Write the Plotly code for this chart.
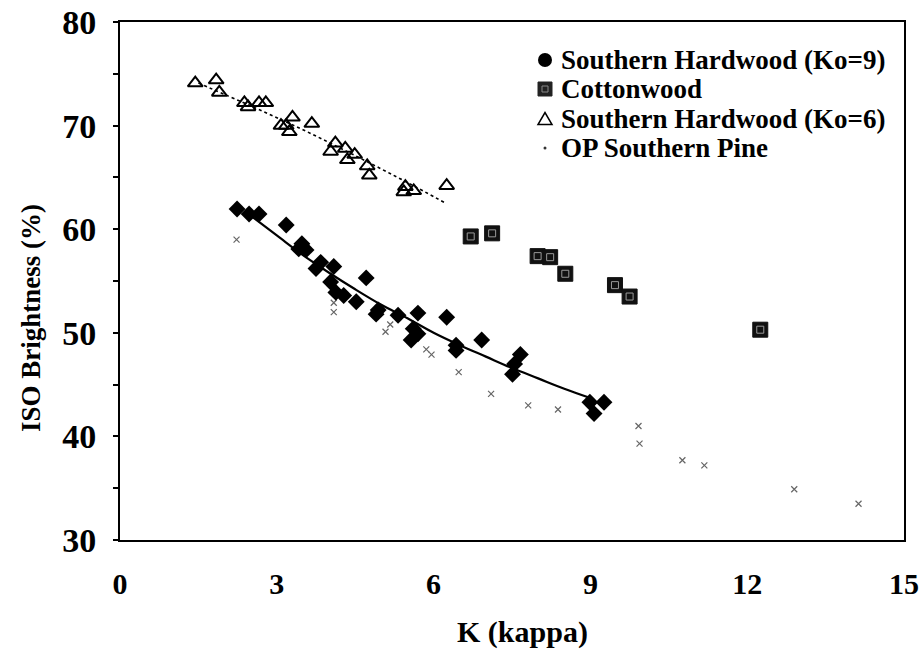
import plotly.graph_objects as go

# Southern Hardwood (Ko=9): kappa vs ISO brightness
sh9_kappa = [2.24, 2.47, 2.66, 3.18, 3.48, 3.56, 3.42, 3.84, 3.75, 4.09, 4.03, 4.13,
             4.28, 4.71, 4.52, 4.94, 4.90, 5.32, 5.70, 5.61, 5.70, 5.57, 6.25, 6.43,
             6.43, 6.92, 7.66, 7.55, 7.51, 8.99, 9.26, 9.07]
sh9_bright = [61.95, 61.47, 61.47, 60.4, 58.6, 58.0, 58.1, 56.8, 56.2, 56.4, 54.9, 53.9,
              53.6, 55.3, 53.0, 52.2, 51.8, 51.7, 51.9, 50.4, 49.9, 49.3, 51.5, 48.8,
              48.3, 49.3, 47.9, 47.0, 46.0, 43.3, 43.3, 42.2]
sh9_fit_kappa = [2.5, 3.0, 3.5, 4.0, 4.5, 5.0, 5.5, 6.0, 6.5, 7.0, 7.5, 8.0, 8.5, 9.0]
sh9_fit_bright = [61.3, 59.4, 57.5, 55.8, 54.2, 52.7, 51.4, 50.0, 48.8, 47.7, 46.6, 45.6, 44.6, 43.7]

# Cottonwood
cw_kappa = [6.71, 7.12, 7.99, 8.23, 8.52, 9.47, 9.75, 12.25]
cw_bright = [59.3, 59.6, 57.4, 57.3, 55.7, 54.6, 53.5, 50.3]

# Southern Hardwood (Ko=6)
sh6_kappa = [1.44, 1.84, 1.90, 2.38, 2.45, 2.66, 2.79, 3.08, 3.30, 3.24, 3.18, 3.67,
             4.03, 4.12, 4.31, 4.35, 4.49, 4.73, 4.77, 5.46, 5.62, 5.43, 6.25]
sh6_bright = [74.1, 74.4, 73.2, 72.2, 71.8, 72.2, 72.2, 70.0, 70.8, 69.4, 70.0, 70.2,
              67.5, 68.3, 67.8, 66.7, 67.2, 66.1, 65.2, 64.1, 63.7, 63.6, 64.2]
sh6_fit_kappa = [1.5, 2.5, 3.5, 4.5, 5.5, 6.2]
sh6_fit_bright = [74.1, 71.9, 69.6, 67.1, 64.5, 62.6]

# OP Southern Pine
op_kappa = [2.23, 4.09, 4.09, 5.08, 5.17, 5.86, 5.96, 6.48, 7.10, 7.81, 8.38, 9.92,
            9.94, 10.76, 11.18, 12.90, 14.13]
op_bright = [59.0, 52.9, 52.0, 50.1, 50.8, 48.4, 47.9, 46.2, 44.1, 43.0, 42.6, 41.0,
             39.3, 37.7, 37.2, 34.9, 33.5]

series_names = ["Southern Hardwood (Ko=9)", "Cottonwood",
                "Southern Hardwood (Ko=6)", "OP Southern Pine"]

x_ticks = [0, 3, 6, 9, 12, 15]
y_ticks = [30, 40, 50, 60, 70, 80]

SERIF = "Liberation Serif, Times New Roman, serif"
INK = "#000000"

W, H = 920, 656
ML, MR, MT, MB = 120, 16, 22, 116
PW, PH = W - ML - MR, H - MT - MB


def px(x):
    """page pixel column -> paper x"""
    return (x - ML) / PW


def py(y):
    """page pixel row -> paper y"""
    return (H - MB - y) / PH


fig = go.Figure()

# fitted curves
fig.add_trace(go.Scatter(x=sh9_fit_kappa, y=sh9_fit_bright, mode="lines",
                         line=dict(color=INK, width=2.2, shape="spline"),
                         showlegend=False, hoverinfo="skip"))
fig.add_trace(go.Scatter(x=sh6_fit_kappa, y=sh6_fit_bright, mode="lines",
                         line=dict(color=INK, width=1.6, dash="dot", shape="spline"),
                         showlegend=False, hoverinfo="skip"))

# OP Southern Pine (faint marks)
fig.add_trace(go.Scatter(x=op_kappa, y=op_bright, mode="markers", name=series_names[3],
                         marker=dict(symbol="x-thin", size=6, color="#666",
                                     line=dict(color="#666", width=1.2)),
                         showlegend=False))

# Southern Hardwood (Ko=6)
fig.add_trace(go.Scatter(x=sh6_kappa, y=sh6_bright, mode="markers", name=series_names[2],
                         marker=dict(symbol="triangle-up-open", size=13, color=INK,
                                     line=dict(color=INK, width=2)),
                         showlegend=False))

# Cottonwood: dark squares with a lighter inner outline
fig.add_trace(go.Scatter(x=cw_kappa, y=cw_bright, mode="markers", name=series_names[1],
                         marker=dict(symbol="square", size=15, color="#111",
                                     line=dict(color="#111", width=1)),
                         showlegend=False))
fig.add_trace(go.Scatter(x=cw_kappa, y=cw_bright, mode="markers",
                         marker=dict(symbol="square-open", size=7, color="#9a9a9a",
                                     line=dict(color="#9a9a9a", width=1)),
                         showlegend=False, hoverinfo="skip"))

# Southern Hardwood (Ko=9)
fig.add_trace(go.Scatter(x=sh9_kappa, y=sh9_bright, mode="markers", name=series_names[0],
                         marker=dict(symbol="diamond", size=13, color=INK,
                                     line=dict(color=INK, width=0)),
                         showlegend=False))

# key: symbols drawn as paper-anchored shapes, labels as annotations
key_sym_x = 545
key_text_x = 559
key_rows = [60, 89, 119, 148]

shapes = [
    dict(type="circle", xref="paper", yref="paper",
         x0=px(key_sym_x - 7), x1=px(key_sym_x + 7),
         y0=py(key_rows[0] + 7), y1=py(key_rows[0] - 7),
         fillcolor=INK, line=dict(color=INK, width=0)),
    dict(type="rect", xref="paper", yref="paper",
         x0=px(key_sym_x - 7), x1=px(key_sym_x + 7),
         y0=py(key_rows[1] + 7), y1=py(key_rows[1] - 7),
         fillcolor="#222", line=dict(color="#222", width=1)),
    dict(type="rect", xref="paper", yref="paper",
         x0=px(key_sym_x - 3), x1=px(key_sym_x + 3),
         y0=py(key_rows[1] + 3), y1=py(key_rows[1] - 3),
         fillcolor="rgba(0,0,0,0)", line=dict(color="#888", width=1)),
    dict(type="path", xref="paper", yref="paper",
         path="M {a},{b} L {c},{d} L {e},{f} Z".format(
             a=px(key_sym_x - 7), b=py(key_rows[2] + 5.5),
             c=px(key_sym_x + 7), d=py(key_rows[2] + 5.5),
             e=px(key_sym_x), f=py(key_rows[2] - 6.5)),
         fillcolor="white", line=dict(color=INK, width=1.5)),
    dict(type="circle", xref="paper", yref="paper",
         x0=px(key_sym_x - 1.5), x1=px(key_sym_x + 1.5),
         y0=py(key_rows[3] + 1.5), y1=py(key_rows[3] - 1.5),
         fillcolor="#333", line=dict(color="#333", width=0)),
]

annotations = [
    dict(text=name, xref="paper", yref="paper", x=px(key_text_x), y=py(row),
         xanchor="left", yanchor="middle", showarrow=False,
         font=dict(family=SERIF, size=27, color=INK, weight="bold"))
    for name, row in zip(series_names, key_rows)
]
annotations += [
    dict(text="K (kappa)", xref="paper", yref="paper", x=px(522), y=py(632),
         xanchor="center", yanchor="middle", showarrow=False,
         font=dict(family=SERIF, size=30, color=INK, weight="bold")),
    dict(text="ISO Brightness (%)", xref="paper", yref="paper", x=px(31), y=py(318),
         textangle=-90, xanchor="center", yanchor="middle", showarrow=False,
         font=dict(family=SERIF, size=27, color=INK, weight="bold")),
]

fig.update_layout(
    width=W, height=H,
    margin=dict(l=ML, r=MR, t=MT, b=MB),
    paper_bgcolor="white", plot_bgcolor="white",
    font=dict(family=SERIF, color=INK),
    showlegend=False,
    shapes=shapes,
    annotations=annotations,
    xaxis=dict(range=[0, 15], tickvals=x_ticks, ticktext=[str(v) for v in x_ticks],
               showgrid=False, zeroline=False, showline=True, linecolor=INK,
               linewidth=2, mirror=True, ticks="", ticklabelstandoff=16,
               ticklabeloverflow="allow", automargin=False,
               tickfont=dict(family=SERIF, size=30, color=INK, weight="bold")),
    yaxis=dict(range=[30, 80], tickvals=y_ticks, ticktext=[str(v) for v in y_ticks],
               showgrid=False, zeroline=False, showline=True, linecolor=INK,
               linewidth=2, mirror=True, ticks="outside", ticklen=5, tickwidth=1.5,
               tickcolor=INK,
               minor=dict(tickvals=[35, 45, 55, 65, 75], ticks="outside", ticklen=5,
                          tickwidth=1.5, tickcolor=INK),
               ticklabelstandoff=10, ticklabeloverflow="allow", automargin=False,
               tickfont=dict(family=SERIF, size=34, color=INK, weight="bold")),
)

fig.write_html("out.html")
